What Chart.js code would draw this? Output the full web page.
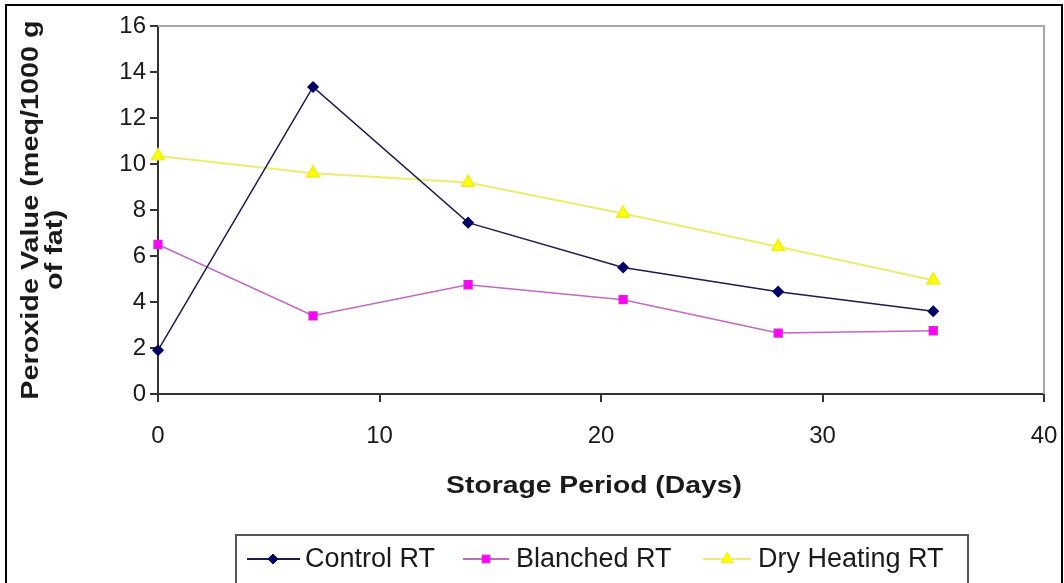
<!DOCTYPE html>
<html>
<head>
<meta charset="utf-8">
<script src="https://cdn.jsdelivr.net/npm/chart.js@4.4.1/dist/chart.umd.min.js"></script>
<style>
  html, body { margin: 0; padding: 0; background: #fff; }
  #wrap { width: 1064px; height: 583px; position: relative; }
</style>
</head>
<body>
<div id="wrap"><canvas id="chart"></canvas></div>
<script>
'use strict';

// Storage days (x values) and peroxide values per treatment
var days = [0, 7, 14, 21, 28, 35];
var controlRT = [1.9, 13.35, 7.45, 5.5, 4.45, 3.6];
var blanchedRT = [6.5, 3.4, 4.75, 4.1, 2.65, 2.75];
var dryHeatingRT = [10.35, 9.6, 9.2, 7.85, 6.4, 4.95];
var seriesNames = ["Control RT", "Blanched RT", "Dry Heating RT"];
var xTicks = [0, 10, 20, 30, 40];
var yTicks = [0, 2, 4, 6, 8, 10, 12, 14, 16];
var xTitle = 'Storage Period (Days)';
var yTitle = ['Peroxide Value (meq/1000 g', 'of fat)'];

function toPoints(values) {
  return days.map(function(d, i) { return { x: d, y: values[i] }; });
}

var FONT = "Arial, 'Liberation Sans', sans-serif";

// Frame around the picture and the gray top/right edges of the plot
var framePlugin = {
  id: 'frame',
  afterDraw: function(chart) {
    var ctx = chart.ctx, a = chart.chartArea;
    ctx.save();
    ctx.strokeStyle = '#a8a8a8';
    ctx.lineWidth = 2;
    ctx.beginPath();
    ctx.moveTo(a.left, a.top);
    ctx.lineTo(a.right, a.top);
    ctx.lineTo(a.right, a.bottom);
    ctx.stroke();

    ctx.strokeStyle = '#000';
    ctx.lineWidth = 2;
    ctx.strokeRect(6, 5, 1056, 600);
    ctx.restore();
  }
};

// Axis titles, a bit wide like the original
var titlePlugin = {
  id: 'axisTitles',
  afterDraw: function(chart) {
    var ctx = chart.ctx;
    ctx.save();
    ctx.fillStyle = '#1a1a1a';
    ctx.font = 'bold 24px ' + FONT;
    ctx.textAlign = 'center';
    ctx.textBaseline = 'middle';

    ctx.save();
    ctx.translate(594, 486);
    ctx.scale(1.18, 1);
    ctx.fillText(xTitle, 0, 0);
    ctx.restore();

    ctx.save();
    ctx.translate(31, 210);
    ctx.rotate(-Math.PI / 2);
    ctx.scale(1.2, 1);
    ctx.fillText(yTitle[0], 0, 0);
    ctx.restore();

    ctx.save();
    ctx.translate(55, 250);
    ctx.rotate(-Math.PI / 2);
    ctx.scale(1.2, 1);
    ctx.fillText(yTitle[1], 0, 0);
    ctx.restore();

    ctx.restore();
  }
};

// Excel-style legend box: line with marker in the middle
var legendPlugin = {
  id: 'boxLegend',
  afterDraw: function(chart) {
    var ctx = chart.ctx;
    var top = 535, bottom = 600, left = 236, right = 968;
    ctx.save();
    ctx.strokeStyle = '#555';
    ctx.lineWidth = 2;
    ctx.strokeRect(left, top, right - left, bottom - top);

    var cy = 559;
    var items = [
      { x: 247, mx: 273, x2: 300, tx: 305 },
      { x: 463, mx: 486, x2: 509, tx: 516 },
      { x: 703, mx: 727, x2: 751, tx: 758 }
    ];
    ctx.font = '27px ' + FONT;
    ctx.textBaseline = 'middle';
    chart.data.datasets.forEach(function(ds, i) {
      var it = items[i];
      ctx.strokeStyle = ds.borderColor;
      ctx.lineWidth = 2;
      ctx.beginPath();
      ctx.moveTo(it.x, cy);
      ctx.lineTo(it.x2, cy);
      ctx.stroke();
      ctx.fillStyle = ds.pointBackgroundColor;
      ctx.strokeStyle = ds.pointBorderColor;
      ctx.lineWidth = 1;
      Chart.helpers.drawPoint(ctx, {
        pointStyle: ds.pointStyle,
        radius: ds.pointRadius,
        rotation: 0,
        borderWidth: 1
      }, it.mx, cy);
      ctx.fillStyle = '#1a1a1a';
      ctx.fillText(seriesNames[i], it.tx, cy + 1);
    });
    ctx.restore();
  }
};

new Chart(document.getElementById('chart'), {
  type: 'line',
  data: {
    datasets: [
      {
        label: seriesNames[0],
        data: toPoints(controlRT),
        borderColor: '#1c1c50',
        borderWidth: 1.5,
        pointStyle: 'rectRot',
        pointRadius: 5,
        pointBackgroundColor: '#000066',
        pointBorderColor: '#000066',
        tension: 0,
        clip: false
      },
      {
        label: seriesNames[1],
        data: toPoints(blanchedRT),
        borderColor: '#c467c4',
        borderWidth: 1.5,
        pointStyle: 'rect',
        pointRadius: 5.5,
        pointBackgroundColor: '#ff00ff',
        pointBorderColor: '#e020e0',
        tension: 0,
        clip: false
      },
      {
        label: seriesNames[2],
        data: toPoints(dryHeatingRT),
        borderColor: '#ecec70',
        borderWidth: 2,
        pointStyle: 'triangle',
        pointRadius: 7,
        pointBackgroundColor: '#ffff00',
        pointBorderColor: '#f0f020',
        tension: 0,
        clip: false
      }
    ]
  },
  options: {
    responsive: true,
    maintainAspectRatio: false,
    animation: false,
    layout: { padding: { left: 8, top: 26, right: 20, bottom: 0 } },
    plugins: {
      legend: { display: false },
      tooltip: { enabled: false }
    },
    scales: {
      x: {
        type: 'linear',
        min: 0,
        max: 40,
        afterBuildTicks: function(scale) {
          scale.ticks = xTicks.map(function(v) { return { value: v }; });
        },
        afterFit: function(scale) {
          scale.height = 189;
          scale.paddingLeft = 0;
          scale.paddingRight = 0;
        },
        grid: { drawOnChartArea: false, drawTicks: true, tickLength: 8, color: '#333', lineWidth: 2 },
        border: { color: '#333', width: 2 },
        ticks: { color: '#1a1a1a', font: { family: FONT, size: 24 }, padding: 20, maxRotation: 0 }
      },
      y: {
        min: 0,
        max: 16,
        afterBuildTicks: function(scale) {
          scale.ticks = yTicks.map(function(v) { return { value: v }; });
        },
        afterFit: function(scale) {
          scale.width = 150;
          scale.paddingTop = 0;
          scale.paddingBottom = 0;
        },
        grid: { drawOnChartArea: false, drawTicks: true, tickLength: 8, color: '#333', lineWidth: 2 },
        border: { color: '#333', width: 2 },
        ticks: { color: '#1a1a1a', font: { family: FONT, size: 24 }, padding: 4 }
      }
    }
  },
  plugins: [framePlugin, titlePlugin, legendPlugin]
});
</script>
</body>
</html>
